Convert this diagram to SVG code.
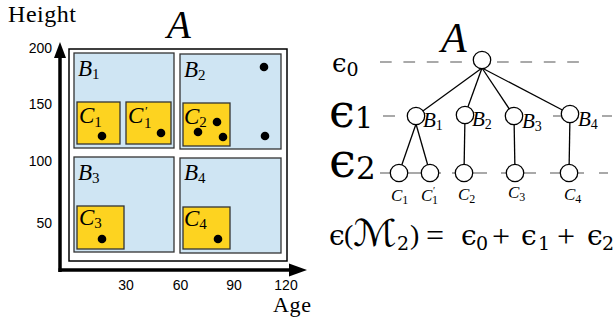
<svg xmlns="http://www.w3.org/2000/svg" width="615" height="322" viewBox="0 0 615 322">
<style>
.serif{font-family:"Liberation Serif","DejaVu Serif",serif;fill:#000}
.it{font-style:italic}
.tick{font-family:"Liberation Sans",Arial,sans-serif;font-size:14px;fill:#000}
.bbox{fill:#cfe5f3;stroke:#333;stroke-width:1.3}
.cbox{fill:#fdd320;stroke:#333;stroke-width:1.3}
.node{fill:#fff;stroke:#000;stroke-width:1.3}
.edge{stroke:#000;stroke-width:1.3;fill:none}
.dash{stroke:#555;stroke-width:1.2;fill:none}
.eps{font-family:"DejaVu Serif","Liberation Serif",serif;fill:#000}
</style>
<rect width="615" height="322" fill="#fff"/>

<!-- Left plot -->
<g id="plot">
  <text class="serif" x="8" y="22" font-size="24" textLength="68">Height</text>
  <text class="serif it" x="167" y="38" font-size="39">A</text>
  <text class="serif" x="273" y="312" font-size="22" textLength="38">Age</text>
  <g id="yticks" text-anchor="end">
    <text class="tick" x="52" y="53">200</text>
    <text class="tick" x="52" y="109">150</text>
    <text class="tick" x="52" y="166">100</text>
    <text class="tick" x="52" y="228">50</text>
  </g>
  <g id="xticks" text-anchor="middle">
    <text class="tick" x="126" y="290">30</text>
    <text class="tick" x="180.5" y="290">60</text>
    <text class="tick" x="234" y="290">90</text>
    <text class="tick" x="286" y="290">120</text>
  </g>
  <g id="axes">
    <line x1="60" y1="56" x2="60" y2="272" stroke="#000" stroke-width="3.5"/>
    <line x1="58.5" y1="270" x2="292" y2="270" stroke="#000" stroke-width="3.5"/>
    <polygon points="60,42 54,58 66,58" fill="#000"/>
    <polygon points="307,270 289,263.5 289,276.5" fill="#000"/>
  </g>
  <rect id="frame" x="69" y="49" width="218" height="212" fill="#fff" stroke="#000" stroke-width="1.5"/>

  <g id="B1">
    <rect class="bbox" x="74" y="53" width="100" height="95"/>
    <text class="serif it" x="78" y="76" font-size="23">B<tspan font-size="15" font-style="normal" dy="3">1</tspan></text>
  </g>
  <g id="C1">
    <rect class="cbox" x="77" y="102" width="43" height="42"/>
    <text class="serif it" x="79" y="123" font-size="23">C<tspan font-size="15" font-style="normal" dy="4">1</tspan></text>
    <circle cx="102" cy="136" r="4.3"/>
  </g>
  <g id="C1p">
    <rect class="cbox" x="126" y="102" width="45" height="42"/>
    <text class="serif it" x="128" y="123" font-size="23">C</text>
    <text class="serif" x="145" y="115" font-size="13">′</text>
    <text class="serif" x="144" y="128" font-size="15">1</text>
    <circle cx="161" cy="133" r="4.3"/>
  </g>
  <g id="B2">
    <rect class="bbox" x="180" y="54" width="101" height="95"/>
    <text class="serif it" x="184" y="77" font-size="23">B<tspan font-size="15" font-style="normal" dy="3">2</tspan></text>
    <circle cx="264" cy="67" r="4.3"/>
    <circle cx="265" cy="136" r="4.3"/>
  </g>
  <g id="C2">
    <rect class="cbox" x="183" y="103" width="47" height="43"/>
    <text class="serif it" x="184" y="124" font-size="23">C<tspan font-size="15" font-style="normal" dy="3">2</tspan></text>
    <circle cx="198" cy="132" r="4.3"/>
    <circle cx="217" cy="122" r="4.3"/>
    <circle cx="223" cy="137" r="4.3"/>
  </g>
  <g id="B3">
    <rect class="bbox" x="74" y="157" width="100" height="95"/>
    <text class="serif it" x="78" y="180" font-size="23">B<tspan font-size="15" font-style="normal" dy="3">3</tspan></text>
  </g>
  <g id="C3">
    <rect class="cbox" x="77" y="206" width="47" height="43"/>
    <text class="serif it" x="79" y="225" font-size="23">C<tspan font-size="15" font-style="normal" dy="3">3</tspan></text>
    <circle cx="102" cy="239" r="4.3"/>
  </g>
  <g id="B4">
    <rect class="bbox" x="180" y="158" width="101" height="95"/>
    <text class="serif it" x="184" y="180" font-size="23">B<tspan font-size="15" font-style="normal" dy="3">4</tspan></text>
  </g>
  <g id="C4">
    <rect class="cbox" x="183" y="207" width="47" height="42"/>
    <text class="serif it" x="184" y="226" font-size="23">C<tspan font-size="15" font-style="normal" dy="3">4</tspan></text>
    <circle cx="218" cy="239" r="4.3"/>
  </g>
</g>

<!-- Right tree -->
<g id="levels">
  <text class="eps" x="332" y="72" font-size="26">ϵ<tspan font-size="19" dy="4">0</tspan></text>
  <text class="eps" x="329" y="127" font-size="46">ϵ<tspan font-size="29" dy="1">1</tspan></text>
  <text class="eps" x="329" y="177" font-size="48">ϵ<tspan font-size="31" dy="2">2</tspan></text>
</g>
<g id="dashes" class="dash">
  <line x1="380" y1="62" x2="588" y2="62" stroke-dasharray="11.7 11.7"/>
  <path d="M383 116H395M553 116H562M602 116H612"/>
  <path d="M380 173H391M408 173H421M437 173H441M452 173H456M473 173H487M501 173H506M523 173H536M550 173H561M578 173H584M599 173H608"/>
</g>
<g id="connectors" class="edge">
  <line x1="482" y1="68" x2="416" y2="116"/>
  <line x1="482" y1="68" x2="465" y2="115"/>
  <line x1="482" y1="68" x2="514" y2="116"/>
  <line x1="482" y1="68" x2="570" y2="114"/>
  <line x1="416" y1="124" x2="399" y2="173"/>
  <line x1="416" y1="124" x2="430" y2="173"/>
  <line x1="465" y1="115" x2="464" y2="173"/>
  <line x1="514" y1="116" x2="515" y2="173"/>
  <line x1="570" y1="114" x2="569" y2="173"/>
</g>
<g id="nA">
  <text class="serif it" x="441" y="52" font-size="42">A</text>
  <circle class="node" cx="482" cy="60" r="8.7"/>
</g>
<g id="nB1"><circle class="node" cx="416" cy="116" r="8.7"/><text class="serif it" x="423" y="127" font-size="21">B<tspan font-size="14" font-style="normal" dy="3">1</tspan></text></g>
<g id="nB2"><circle class="node" cx="465" cy="115" r="8.7"/><text class="serif it" x="472" y="126" font-size="21">B<tspan font-size="14" font-style="normal" dy="3">2</tspan></text></g>
<g id="nB3"><circle class="node" cx="514" cy="116" r="8.7"/><text class="serif it" x="522" y="128" font-size="21">B<tspan font-size="14" font-style="normal" dy="3">3</tspan></text></g>
<g id="nB4"><circle class="node" cx="570" cy="114" r="8.7"/><text class="serif it" x="578" y="126" font-size="21">B<tspan font-size="14" font-style="normal" dy="3">4</tspan></text></g>
<g id="nC1"><circle class="node" cx="399" cy="173" r="8.7"/><text class="serif it" x="391" y="201" font-size="17">C<tspan font-size="12" font-style="normal" dy="3">1</tspan></text></g>
<g id="nC1p"><circle class="node" cx="430" cy="173" r="8.7"/><text class="serif it" x="421" y="201" font-size="17">C</text><text class="serif" x="433" y="194" font-size="10">′</text><text class="serif" x="432" y="204" font-size="12">1</text></g>
<g id="nC2"><circle class="node" cx="464" cy="173" r="8.7"/><text class="serif it" x="458" y="200" font-size="17">C<tspan font-size="12" font-style="normal" dy="3">2</tspan></text></g>
<g id="nC3"><circle class="node" cx="515" cy="173" r="8.7"/><text class="serif it" x="508" y="198" font-size="17">C<tspan font-size="12" font-style="normal" dy="3">3</tspan></text></g>
<g id="nC4"><circle class="node" cx="569" cy="173" r="8.7"/><text class="serif it" x="564" y="200" font-size="17">C<tspan font-size="12" font-style="normal" dy="3">4</tspan></text></g>

<g id="equation" class="eps" font-size="28">
  <text x="329" y="245">ϵ</text>
  <text x="344" y="244" font-family="Liberation Serif">(</text>
  <text transform="translate(353,246) scale(1.28,1.15)" x="0" y="0" font-size="32" font-family="'DejaVu Sans','Noto Sans',sans-serif">ℳ</text>
  <text x="397" y="250" font-size="19">2</text>
  <text x="410" y="244" font-family="Liberation Serif">)</text>
  <text x="426" y="246" font-family="Liberation Serif" font-size="32">=</text>
  <text x="461" y="245">ϵ</text>
  <text x="476" y="250" font-size="19">0</text>
  <text x="492" y="247" font-family="Liberation Serif" font-size="32">+</text>
  <text x="521" y="245">ϵ</text>
  <text x="538" y="250" font-size="19">1</text>
  <text x="557" y="247" font-family="Liberation Serif" font-size="32">+</text>
  <text x="587" y="245">ϵ</text>
  <text x="602" y="250" font-size="19">2</text>
</g>
</svg>
